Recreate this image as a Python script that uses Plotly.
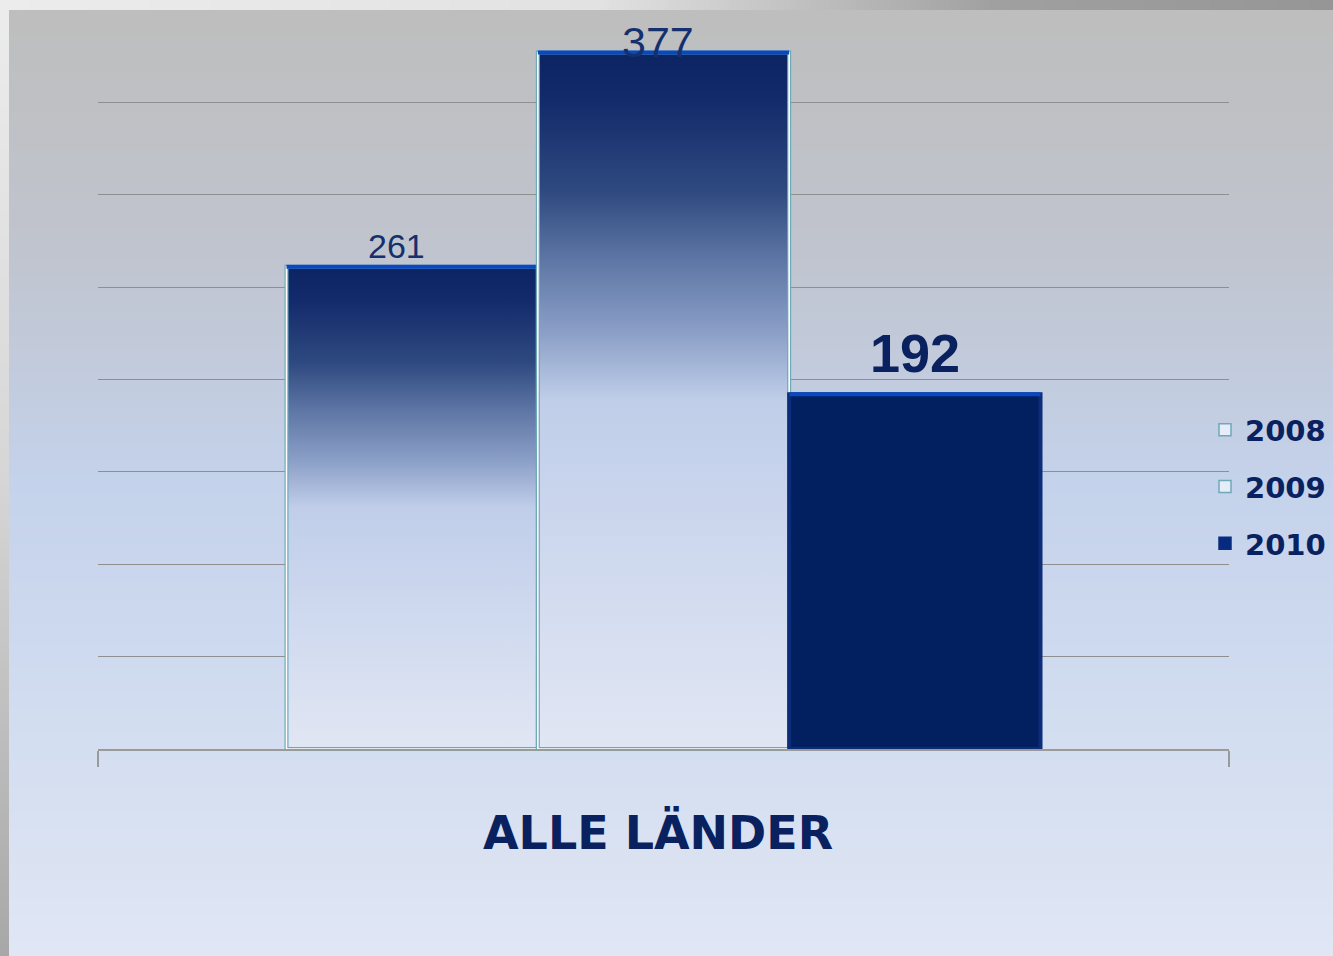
import base64
import struct
import zlib

import plotly.graph_objects as go

# ---------------- data ----------------
categories = ["ALLE LÄNDER"]
years = ["2008", "2009", "2010"]
values_2008 = [261]
values_2009 = [377]
values_2010 = [192]
series_values = [values_2008, values_2009, values_2010]
y_grid_values = [0, 50, 100, 150, 200, 250, 300, 350, 400]

# ---------------- styling ----------------
W, H = 1333, 956
BARGAP = 1 / 3
NAVY = "#0a2160"
LABEL_NAVY = "#14306e"

light_scale = [
    [0.0, "#e1e6f3"],
    [0.32, "#ccd7ee"],
    [0.5, "#c0cee9"],
    [0.6, "#8a9ec6"],
    [0.7, "#5f77a6"],
    [0.8, "#2f4a80"],
    [0.93, "#132b6b"],
    [1.0, "#0c2462"],
]
dark_scale = [[0.0, "#021f5f"], [1.0, "#021f5f"]]
series_styles = [
    dict(scale=light_scale, edge="white", outline="#6fa9b8", legend_fill="#e6edf8"),
    dict(scale=light_scale, edge="white", outline="#6fa9b8", legend_fill="#e6edf8"),
    dict(scale=dark_scale, edge="#0b2d7a", outline="#0b2d7a", legend_fill="#062a80"),
]
label_styles = [
    dict(size=34, color=LABEL_NAVY, family="Liberation Sans, Arial", weight="normal", yshift=0, xshift=-16),
    dict(size=43, color=LABEL_NAVY, family="Liberation Sans, Arial", weight="normal", yshift=-16, xshift=-6),
    dict(size=54, color=NAVY, family="Liberation Sans, Arial", weight="bold", yshift=9, xshift=0),
]


def png_uri(rows):
    """rows: list of rows, each a list of (r,g,b)."""
    h = len(rows)
    w = len(rows[0])
    raw = b"".join(b"\x00" + bytes(c for px in row for c in px) for row in rows)

    def chunk(tag, data):
        out = struct.pack(">I", len(data)) + tag + data
        return out + struct.pack(">I", zlib.crc32(tag + data) & 0xFFFFFFFF)

    png = (b"\x89PNG\r\n\x1a\n"
           + chunk(b"IHDR", struct.pack(">IIBBBBB", w, h, 8, 2, 0, 0, 0))
           + chunk(b"IDAT", zlib.compress(raw, 9))
           + chunk(b"IEND", b""))
    return "data:image/png;base64," + base64.b64encode(png).decode()


def lerp_stops(stops, n):
    out = []
    for i in range(n):
        t = i / (n - 1)
        for (t0, c0), (t1, c1) in zip(stops[:-1], stops[1:]):
            if t0 <= t <= t1:
                f = 0 if t1 == t0 else (t - t0) / (t1 - t0)
                out.append(tuple(int(round(a + (b - a) * f)) for a, b in zip(c0, c1)))
                break
    return out


bg_stops = [(0.0, (190, 190, 190)), (0.25, (192, 196, 206)), (0.5, (196, 210, 235)),
            (0.75, (210, 221, 240)), (1.0, (224, 230, 244))]
bg_uri = png_uri([[c] for c in lerp_stops(bg_stops, 300)])

top_stops = [(0.0, (236, 236, 236)), (0.45, (226, 226, 226)), (0.75, (160, 160, 160)), (1.0, (150, 150, 150))]
top_uri = png_uri([lerp_stops(top_stops, 200)])
left_stops = [(0.0, (236, 236, 236)), (0.5, (214, 214, 214)), (1.0, (168, 168, 168))]
left_uri = png_uri([[c] for c in lerp_stops(left_stops, 200)])

fig = go.Figure()

# legend / base bars
for yr, vals, st in zip(years, series_values, series_styles):
    fig.add_trace(go.Bar(
        x=list(range(len(categories))), y=vals, name=yr, legendgroup=yr,
        marker=dict(color=st["legend_fill"], line=dict(color=st["outline"], width=1.5)),
        hoverinfo="skip",
    ))

# gradient bodies drawn over the bars
n = len(years)
bw = (1 - BARGAP) / n
for s, (yr, vals, st) in enumerate(zip(years, series_values, series_styles)):
    xs, ys, tx, ty = [], [], [], []
    for c, v in enumerate(vals):
        x0 = c - (1 - BARGAP) / 2 + s * bw
        x1 = x0 + bw
        xs += [x0, x1, x1, x0, x0, None]
        ys += [0, 0, v, v, 0, None]
        tx += [x0, x1, None]
        ty += [v, v, None]
    fig.add_trace(go.Scatter(
        x=xs, y=ys, mode="lines", fill="toself",
        fillgradient=dict(type="vertical", colorscale=st["scale"], start=0, stop=max(vals)),
        line=dict(color=st["outline"], width=4),
        showlegend=False, hoverinfo="skip", legendgroup=yr,
    ))
    fig.add_trace(go.Scatter(
        x=xs, y=ys, mode="lines",
        line=dict(color=st["edge"], width=1.6),
        showlegend=False, hoverinfo="skip", legendgroup=yr,
    ))
    fig.add_trace(go.Scatter(
        x=tx, y=ty, mode="lines", line=dict(color="#0a48c0", width=4),
        showlegend=False, hoverinfo="skip", legendgroup=yr,
    ))
    for c, v in enumerate(vals):
        ls = label_styles[s]
        fig.add_annotation(
            x=c - (1 - BARGAP) / 2 + (s + 0.5) * bw, y=v, xref="x", yref="y",
            text=str(v), showarrow=False, yanchor="bottom",
            yshift=ls["yshift"], xshift=ls["xshift"],
            font=dict(size=ls["size"], color=ls["color"], family=ls["family"], weight=ls["weight"]),
        )

for c, cat in enumerate(categories):
    fig.add_annotation(
        x=c, y=0.098, xref="x", yref="paper", text=cat, showarrow=False, yanchor="bottom",
        xshift=-6,
        font=dict(size=46, color=NAVY, family="DejaVu Sans", weight="bold"),
    )

fig.update_layout(
    width=W, height=H,
    margin=dict(l=0, r=0, t=0, b=0),
    paper_bgcolor="#d4d4d4",
    plot_bgcolor="rgba(0,0,0,0)",
    barmode="group", bargap=BARGAP, bargroupgap=0,
    xaxis=dict(
        domain=[98 / W, 1229 / W], range=[-0.5, len(categories) - 0.5],
        tickvals=[c - 0.5 for c in range(len(categories) + 1)],
        ticktext=["" for _ in range(len(categories) + 1)],
        ticks="outside", ticklen=16, tickcolor="#9a9a9a", tickwidth=1.5,
        showgrid=False, zeroline=False, showline=True, linecolor="#9a9a9a", linewidth=1.5,
    ),
    yaxis=dict(
        domain=[(H - 749) / H, (H - 10) / H], range=[y_grid_values[0], y_grid_values[-1]],
        tickvals=y_grid_values, showticklabels=False, ticks="",
        showgrid=True, gridcolor="#8f8f8f", gridwidth=1.2, zeroline=False, showline=False,
    ),
    legend=dict(
        x=1205 / W, xanchor="left", y=1 - 487 / H, yanchor="middle",
        bgcolor="rgba(0,0,0,0)", tracegroupgap=16,
        font=dict(size=29, color=NAVY, family="DejaVu Sans", weight="bold"),
    ),
    showlegend=True,
    images=[
        dict(source=bg_uri, xref="paper", yref="paper", x=9 / W, y=1 - 10 / H,
             sizex=1 - 9 / W, sizey=1 - 10 / H, xanchor="left", yanchor="top",
             sizing="stretch", layer="below"),
        dict(source=top_uri, xref="paper", yref="paper", x=0, y=1,
             sizex=1, sizey=10 / H, xanchor="left", yanchor="top",
             sizing="stretch", layer="below"),
        dict(source=left_uri, xref="paper", yref="paper", x=0, y=1 - 10 / H,
             sizex=9 / W, sizey=1 - 10 / H, xanchor="left", yanchor="top",
             sizing="stretch", layer="below"),
    ],
)

fig.write_html(
    "out.html",
    config={"displayModeBar": False},
    post_script="document.body.style.margin='0px';document.body.style.overflow='hidden';",
)
